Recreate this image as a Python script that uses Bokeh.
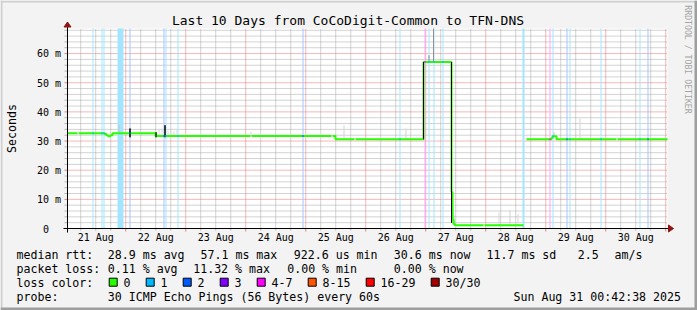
import math
from datetime import datetime
import numpy as np
from bokeh.plotting import figure
from bokeh.models import Range1d
from bokeh.core.properties import value
from bokeh.embed import file_html
from bokeh.resources import INLINE

nan = float("nan")

# ------------------------------------------------------------------ data
TITLE = "Last 10 Days from CoCoDigit-Common to TFN-DNS"
Y_TITLE = "Seconds"
WATERMARK = "RRDTOOL / TOBI OETIKER"
graph_start = datetime(2025, 8, 21, 0, 42, 38)
graph_hours = 240.0          # 10 days
y_max_ms = 68.6

day_labels = ["21 Aug", "22 Aug", "23 Aug", "24 Aug", "25 Aug",
              "26 Aug", "27 Aug", "28 Aug", "29 Aug", "30 Aug"]
y_ticks_ms = [0, 10, 20, 30, 40, 50, 60]
y_tick_labels = ["0", "10 m", "20 m", "30 m", "40 m", "50 m", "60 m"]

# median rtt (ms), step changes, hours since graph start; nan = no data
median_hours = [0.0, 4.0, 4.4, 14.8, 15.6, 16.4, 17.2, 18.0, 35.2, 73.2, 73.6,
                105.6, 106.0, 107.2, 114.8, 115.2, 142.4, 153.6, 154.0, 154.4,
                154.8, 155.2, 166.4, 166.8, 182.4, 183.6, 193.6, 194.0, 195.6,
                219.6, 220.0, 240.0]
median_ms = [32.7, nan, 32.7, 32.4, 31.9, 31.6, 32.0, 32.7, 31.7, nan, 31.7,
             nan, 31.7, 30.6, nan, 30.6, 57.1, 12.5, 3.0, 1.8,
             1.2, 1.1, nan, 1.1, nan, 30.6, 31.0, 31.6, 30.6,
             nan, 30.6, 30.6]

# packet loss events: start hour, duration (h), loss class index
loss_start_h = [10.0, 13.6, 14.4, 20.0, 24.8, 38.4, 39.2, 44.0, 94.0, 132.8,
                142.8, 144.4, 146.4, 150.0, 182.0, 192.8, 194.0, 199.6, 200.8,
                213.2, 228.8, 232.0]
loss_len_h = [0.4, 0.4, 0.4, 2.4, 0.4, 0.4, 0.4, 0.4, 0.4, 0.4,
              0.4, 0.4, 0.4, 0.4, 0.8, 0.4, 0.4, 0.4, 0.4,
              0.4, 0.4, 0.4]
loss_class = [1, 1, 1, 1, 2, 2, 1, 1, 2, 1,
              4, 1, 1, 1, 1, 4, 1, 2, 1,
              1, 1, 2]

# smoke (spread of the individual pings): hour, low ms, high ms, shade
smoke_h = [20.4, 24.8, 35.2, 36.4, 37.6, 38.8, 40.0, 41.2, 42.4, 43.6, 73.2,
           110.4, 135.2, 142.2, 144.4, 146.2, 153.4, 154.0, 154.4, 154.8,
           172.4, 176.8, 180.0, 194.4, 204.8]
smoke_lo = [32.7, 31.3, 31.3, 31.8, 31.8, 31.3, 31.8, 31.8, 31.8, 31.8, 31.7,
            30.6, 30.6, 30.6, 57.1, 57.1, 2.0, 1.1, 1.1, 1.1,
            1.1, 1.1, 1.1, 31.6, 30.6]
smoke_hi = [35.4, 34.3, 33.0, 33.8, 34.2, 35.4, 33.6, 34.0, 33.4, 33.8, 33.2,
            35.4, 34.3, 57.1, 59.4, 68.6, 57.1, 6.0, 4.5, 3.0,
            5.5, 6.2, 5.0, 33.0, 37.7]
smoke_shade = ["#c4c4c4", "#000000", "#000000", "#dcdcdc", "#dcdcdc", "#000000",
               "#dcdcdc", "#dcdcdc", "#dcdcdc", "#dcdcdc", "#d4d4d4",
               "#d4d4d4", "#d4d4d4", "#000000", "#8c8c8c", "#909090", "#000000",
               "#b8b8b8", "#c8c8c8", "#d8d8d8", "#d8d8d8", "#d0d0d0", "#d8d8d8",
               "#c0c0c0", "#d4d4d4"]

loss_labels = ["0", "1", "2", "3", "4-7", "8-15", "16-29", "30/30"]
loss_colors = ["#26ff00", "#00b8ff", "#0059ff", "#7e00ff", "#ff00ff",
               "#ff5500", "#ff0000", "#a10000"]

stats_rtt = ["median rtt:", "28.9 ms avg", "57.1 ms max", "922.6 us min",
             "30.6 ms now", "11.7 ms sd", "2.5", "am/s"]
stats_loss = ["packet loss:", "0.11 % avg", "11.32 % max", "0.00 % min", "0.00 % now"]
probe_text = ["probe:", "30 ICMP Echo Pings (56 Bytes) every 60s"]
stamp_text = "Sun Aug 31 00:42:38 2025"

# ------------------------------------------------------------------ layout
W, H = 697, 310
FL, FT, FW, FH = 67, 28, 600, 200
h_px = graph_hours / FW
ms_px = y_max_ms / FH
FONT = "DejaVu Sans Mono"
BG = "#f3f3f3"


def X(px):
    return (px - FL) * h_px


def Y(py):
    return (FT + FH - py) * ms_px


def blend(c, a):
    r, g, b = int(c[1:3], 16), int(c[3:5], 16), int(c[5:7], 16)
    return "#%02x%02x%02x" % tuple(int(round(255 - a * (255 - v))) for v in (r, g, b))


p = figure(width=W, height=H, x_range=Range1d(X(0), X(W)), y_range=Range1d(Y(H), Y(0)),
           x_axis_type=None, y_axis_type=None, output_backend="svg", title=None,
           toolbar_location=None, min_border=0, background_fill_color=BG,
           border_fill_color=BG, outline_line_color=None)


def txt(xs, ys, texts, size, align="left", angle=0.0, color="#000000"):
    p.text(x=xs, y=ys, text=texts, text_font=value(FONT), text_font_size=value(size),
           text_align=align, text_baseline="middle", angle=angle, text_color=color)


# 3D border
p.quad(left=[X(0), X(0)], right=[X(W), X(2)], top=[Y(0), Y(0)], bottom=[Y(2), Y(H)],
       fill_color="#cfcfcf", line_color=None)
p.quad(left=[X(0), X(W - 3)], right=[X(W), X(W)], top=[Y(H - 3), Y(0)], bottom=[Y(H), Y(H)],
       fill_color="#9e9e9e", line_color=None)

# plot canvas
p.quad(left=[0], right=[graph_hours], bottom=[0], top=[y_max_ms],
       fill_color="#ffffff", line_color=None)

# grid
midnight0 = (datetime(2025, 8, 22) - graph_start).total_seconds() / 3600.0
v_minor, v_major = [], []
for k in range(-4, 44):
    t = midnight0 + 6 * k
    if 0 < t < graph_hours:
        (v_major if k % 4 == 0 else v_minor).append(t)
h_minor, h_major = [], []
for v in range(2, int(y_max_ms) + 1, 2):
    (h_major if v % 10 == 0 else h_minor).append(v)

GRID = "#a6a6a6"
MGRID = "#ea7272"
p.segment(x0=v_minor, x1=v_minor, y0=[0] * len(v_minor), y1=[y_max_ms] * len(v_minor),
          line_color=GRID, line_width=1, line_dash="1 1")
p.segment(x0=[0] * len(h_minor), x1=[graph_hours] * len(h_minor), y0=h_minor, y1=h_minor,
          line_color=GRID, line_width=1, line_dash="1 1")
p.segment(x0=v_major, x1=v_major, y0=[0] * len(v_major), y1=[y_max_ms] * len(v_major),
          line_color=MGRID, line_width=1, line_dash="1 1")
p.segment(x0=[0] * len(h_major), x1=[graph_hours] * len(h_major), y0=h_major, y1=h_major,
          line_color=MGRID, line_width=1, line_dash="1 1")

# loss bars
p.quad(left=loss_start_h, right=[a + b for a, b in zip(loss_start_h, loss_len_h)],
       bottom=[0] * len(loss_start_h), top=[y_max_ms] * len(loss_start_h),
       fill_color=[blend(loss_colors[c], 0.36) for c in loss_class], line_color=None)

# smoke
sx = [h + 0.5 * h_px for h in smoke_h]
p.segment(x0=sx, x1=sx, y0=smoke_lo, y1=smoke_hi, line_color=smoke_shade, line_width=1)

# median line (split at data gaps)
chunks, cx, cy = [], [], []
for h, m in zip(median_hours, median_ms):
    if math.isnan(m):
        if cx:
            cx.append(h)
            cy.append(cy[-1])
            chunks.append((cx, cy))
        cx, cy = [], []
    else:
        cx.append(h)
        cy.append(m)
if len(cx) > 1:
    chunks.append((cx, cy))
for cx, cy in chunks:
    p.step(x=cx, y=cy, mode="after", line_color="#26ff00", line_width=2)

# transitions of smoke that lie over the line
blk = [i for i, s in enumerate(smoke_shade) if s == "#000000"]
p.segment(x0=[sx[i] for i in blk], x1=[sx[i] for i in blk],
          y0=[smoke_lo[i] for i in blk], y1=[smoke_hi[i] for i in blk],
          line_color="#000000", line_width=1)

# median coloured by loss
mh = np.array(median_hours)
mm = np.array(median_ms)
bx0, bx1, by, bc = [], [], [], []
for s, l, c in zip(loss_start_h, loss_len_h, loss_class):
    if l > 0.5:
        continue
    i = int(np.searchsorted(mh, s + 1e-6, side="right")) - 1
    if i >= 0 and not math.isnan(mm[i]):
        bx0.append(s)
        bx1.append(s + l)
        by.append(mm[i])
        bc.append(loss_colors[c])
p.segment(x0=bx0, x1=bx1, y0=by, y1=by, line_color=bc, line_width=2)

# axes + ticks
p.segment(x0=[X(FL - 3)] * len(h_minor), x1=[0] * len(h_minor), y0=h_minor, y1=h_minor,
          line_color="#b4b4b4", line_width=1)
p.segment(x0=[X(FL - 3)] * len(h_major), x1=[0] * len(h_major), y0=h_major, y1=h_major,
          line_color="#e08080", line_width=1)
p.segment(x0=v_minor, x1=v_minor, y0=[0] * len(v_minor), y1=[Y(FT + FH + 2)] * len(v_minor),
          line_color="#b4b4b4", line_width=1)
p.segment(x0=v_major, x1=v_major, y0=[0] * len(v_major), y1=[Y(FT + FH + 3)] * len(v_major),
          line_color="#e08080", line_width=1)
p.segment(x0=[0, X(FL - 4)], x1=[0, X(FL + FW + 1)], y0=[Y(FT + FH + 4), 0],
          y1=[Y(FT - 2), 0], line_color="#000000", line_width=1)
AR = "#8f1515"
p.patch(x=[X(FL - 3.5), X(FL + 3.5), X(FL)], y=[Y(FT - 1.5), Y(FT - 1.5), Y(FT - 6.5)],
        fill_color=AR, line_color=AR)
p.patch(x=[X(FL + FW + 1), X(FL + FW + 1), X(FL + FW + 6)],
        y=[Y(FT + FH - 3.5), Y(FT + FH + 3.5), Y(FT + FH)], fill_color=AR, line_color=AR)

# texts (vertical centres)
txt([X(347.5)], [Y(19.5)], [TITLE], "13px", align="center")
txt([X(11)], [Y(FT + FH / 2)], [Y_TITLE], "11.6px", align="center", angle=math.pi / 2)
txt([X(687.5)], [Y(59)], [WATERMARK], "8.2px", align="center",
    angle=-math.pi / 2, color="#a4a4a4")

noon0 = (datetime(2025, 8, 21, 12) - graph_start).total_seconds() / 3600.0
txt([noon0 + 24 * i for i in range(len(day_labels))], [Y(237.3)] * len(day_labels),
    day_labels, "10px", align="center")
ytx = [X(FL - 6.5 - (12 if t == 0 else 0)) for t in y_ticks_ms]
txt(ytx, [t - 0.4 * ms_px for t in y_ticks_ms], y_tick_labels, "10px", align="right")

LF = "11.6px"
txt([X(v) for v in [16, 107.3, 200, 293.3, 393.3, 486, 577.3, 614]],
    [Y(254.0)] * len(stats_rtt), stats_rtt, LF)
txt([X(v) for v in [16, 107.3, 192.7, 286.7, 393.3]],
    [Y(268.1)] * len(stats_loss), stats_loss, LF)
txt([X(16), X(107.3)], [Y(296.3)] * 2, probe_text, LF)
txt([X(680.5)], [Y(296.3)], [stamp_text], LF, align="right")

# loss colour legend
sq_left, lab_x = [], []
xpos = 108.7
for lab in loss_labels:
    sq_left.append(xpos)
    lab_x.append(xpos + 14.3)
    xpos += 14.3 + 7.0 * len(lab) + 15.7
txt([X(16)], [Y(282.2)], ["loss color:"], LF)
p.quad(left=[X(v) for v in sq_left], right=[X(v + 8) for v in sq_left],
       top=[Y(277.7)] * len(sq_left), bottom=[Y(285.7)] * len(sq_left),
       fill_color=loss_colors, line_color="#000000", line_width=1)
txt([X(v) for v in lab_x], [Y(282.2)] * len(lab_x), loss_labels, LF)

open("out.html", "w").write(file_html(p, INLINE))
